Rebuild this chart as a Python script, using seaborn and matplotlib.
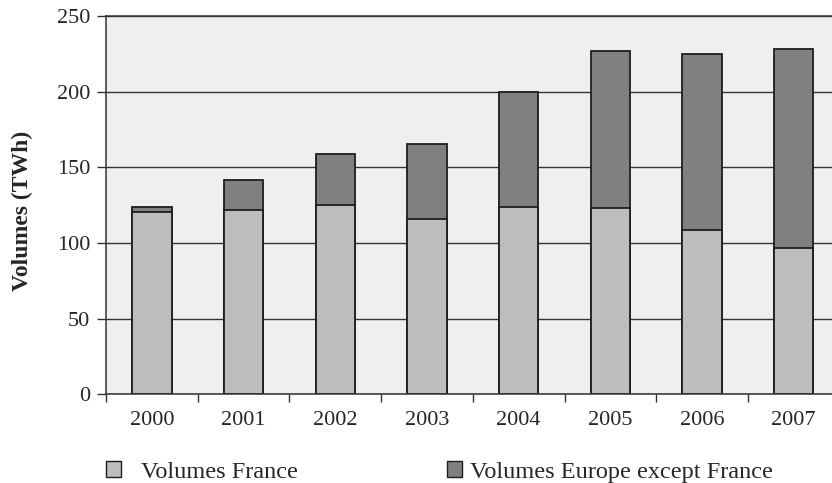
import matplotlib
matplotlib.use("Agg")
import matplotlib.pyplot as plt
from matplotlib.patches import Patch
import numpy as np
import pandas as pd
import seaborn as sns

# Yearly traded volumes (TWh)
years = ["2000", "2001", "2002", "2003", "2004", "2005", "2006", "2007"]
volumes_france = [120.3, 122.0, 124.9, 116.1, 123.8, 123.3, 108.6, 96.7]
volumes_europe_ex_france = [3.7, 19.8, 33.7, 49.5, 76.0, 103.6, 116.5, 131.7]
y_ticks = [0, 50, 100, 150, 200, 250]

label_france = "Volumes France"
label_europe = "Volumes Europe except France"
y_label = "Volumes (TWh)"

color_france = "#bdbdbd"
color_europe = "#808080"
edge = "#1e1e1e"
panel_bg = "#efefef"
line_col = "#333333"

sns.set_theme(style="ticks")
plt.rcParams["font.family"] = ["Liberation Serif", "DejaVu Serif"]

df = pd.DataFrame({
    "year": years,
    "france": volumes_france,
    "europe": volumes_europe_ex_france,
})
df["total"] = df["france"] + df["europe"]

W, H = 832, 483
fig = plt.figure(figsize=(W / 100, H / 100), dpi=100)
ax = fig.add_axes([106 / W, 1 - 394.3 / H, 733.6 / W, (394.3 - 16) / H])
ax.set_facecolor(panel_bg)
ax.set_axisbelow(True)

# Stacked bars: the full height in dark grey, the French share drawn over it
sns.barplot(data=df, x="year", y="total", color=color_europe, saturation=1,
            width=0.43, edgecolor=edge, linewidth=1.3, ax=ax)
sns.barplot(data=df, x="year", y="france", color=color_france, saturation=1,
            width=0.43, edgecolor=edge, linewidth=1.3, ax=ax)

ax.set_xlim(-0.5, len(years) - 0.5)
ax.set_ylim(0, 250)
ax.set_yticks(y_ticks)
ax.set_yticklabels([str(t) for t in y_ticks], fontsize=16)
ax.yaxis.grid(True, color=line_col, linewidth=1.0)
ax.xaxis.grid(False)

# Category separators as major ticks, year labels on minor ticks
ax.set_xticks(np.arange(len(years) + 1) - 0.5)
ax.set_xticklabels([])
ax.set_xticks(np.arange(len(years)), minor=True)
ax.set_xticklabels(years, minor=True, fontsize=16)
ax.tick_params(axis="x", which="major", length=6, width=1.0, color=line_col, direction="out")
ax.tick_params(axis="x", which="minor", length=0, pad=12)
ax.tick_params(axis="y", length=6.5, width=1.0, color=line_col, pad=5)

for side in ["left", "bottom", "top"]:
    ax.spines[side].set_visible(True)
    ax.spines[side].set_color(line_col)
    ax.spines[side].set_linewidth(1.1)
ax.spines["right"].set_visible(False)

ax.set_xlabel("")
ax.set_ylabel(y_label, fontsize=17, fontweight="bold")
ax.yaxis.set_label_coords(-0.0995, 0.4845)

# Legend entries placed under the plot
leg1 = fig.legend(handles=[Patch(facecolor=color_france, edgecolor=edge, linewidth=1.0, label=label_france)],
                  loc="center left", bbox_to_anchor=(106 / W, 1 - 472 / H), frameon=False,
                  fontsize=17.5, handlelength=0.62, handleheight=0.62, handletextpad=0.8,
                  borderpad=0, borderaxespad=0)
leg2 = fig.legend(handles=[Patch(facecolor=color_europe, edgecolor=edge, linewidth=1.0, label=label_europe)],
                  loc="center left", bbox_to_anchor=(447 / W, 1 - 472 / H), frameon=False,
                  fontsize=17.5, handlelength=0.62, handleheight=0.62, handletextpad=0.33,
                  borderpad=0, borderaxespad=0)

fig.savefig("out.png", dpi=100)
